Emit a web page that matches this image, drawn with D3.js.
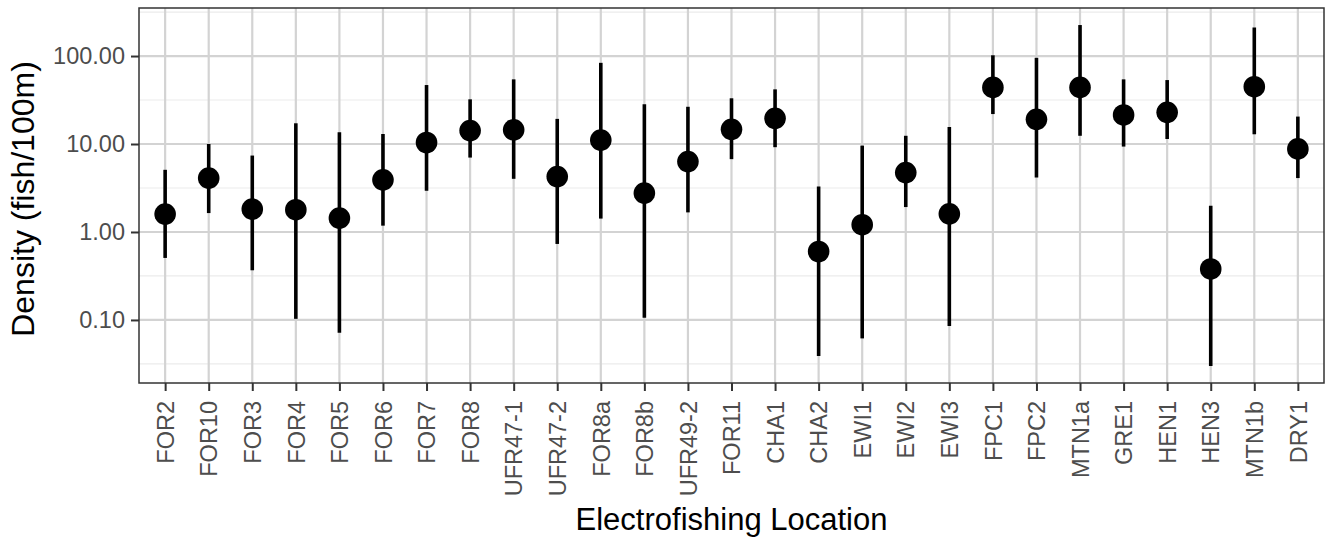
<!DOCTYPE html>
<html>
<head>
<meta charset="utf-8">
<script src="https://cdn.jsdelivr.net/npm/d3@7"></script>
<style>
  html, body { margin: 0; padding: 0; background: #ffffff; }
  svg { display: block; font-family: "Liberation Sans", Arial, Helvetica, sans-serif; }
</style>
</head>
<body>
<svg id="chart" width="1325" height="538"></svg>
<script>
// Electrofishing sites, in plotting order
const locations = ["FOR2", "FOR10", "FOR3", "FOR4", "FOR5", "FOR6", "FOR7", "FOR8",
  "UFR47-1", "UFR47-2", "FOR8a", "FOR8b", "UFR49-2", "FOR11", "CHA1", "CHA2",
  "EWI1", "EWI2", "EWI3", "FPC1", "FPC2", "MTN1a", "GRE1", "HEN1", "HEN3", "MTN1b", "DRY1"];

// Estimated density (fish/100m) with lower and upper interval bounds
const density = [1.60, 4.10, 1.82, 1.79, 1.44, 3.92, 10.4, 14.2,
  14.5, 4.27, 11.1, 2.77, 6.32, 14.7, 19.6, 0.60,
  1.21, 4.74, 1.61, 44.0, 19.1, 44.0, 21.4, 22.9, 0.38, 44.8, 8.80];
const lower = [0.507, 1.64, 0.367, 0.103, 0.0716, 1.18, 2.94, 7.01,
  4.02, 0.731, 1.42, 0.106, 1.67, 6.73, 9.20, 0.0389,
  0.0617, 1.92, 0.0851, 21.9, 4.16, 12.4, 9.35, 11.4, 0.030, 12.9, 4.10];
const upper = [5.09, 10.0, 7.39, 17.2, 13.6, 13.0, 46.8, 32.2,
  54.3, 19.3, 83.7, 28.3, 26.5, 33.1, 41.8, 3.29,
  9.59, 12.4, 15.6, 102, 95.4, 225, 54.3, 53.3, 1.99, 211, 20.5];

// Y axis breaks and their labels
const yBreaks = [0.1, 1, 10, 100];
const yBreakLabels = ["0.10", "1.00", "10.00", "100.00"];

const rows = locations.map((loc, i) => ({ loc, mid: density[i], lo: lower[i], hi: upper[i] }));

const svg = d3.select("#chart");
const panel = { left: 139, right: 1324, top: 8, bottom: 383 };
const fontStack = "'Liberation Sans', Arial, Helvetica, sans-serif";

// Discrete x positions with half-step padding on each end
const x = d3.scalePoint()
  .domain(locations)
  .range([panel.left, panel.right])
  .padding(0.6);

// Log y scale, limits expanded by 5% of the log range on both sides
const logMin = Math.log10(d3.min(lower));
const logMax = Math.log10(d3.max(upper));
const pad = (logMax - logMin) * 0.05;
const y = d3.scaleLog()
  .domain([Math.pow(10, logMin - pad), Math.pow(10, logMax + pad)])
  .range([panel.bottom, panel.top]);

// Minor grid at half-decades inside the panel
const [dLo, dHi] = y.domain().map(Math.log10);
const minorBreaks = [];
for (let e = Math.floor(dLo) - 0.5; e <= Math.ceil(dHi); e += 1) {
  if (e > dLo && e < dHi) minorBreaks.push(Math.pow(10, e));
}

const grid = svg.append("g");
grid.selectAll("line.minor")
  .data(minorBreaks)
  .join("line")
  .attr("class", "minor")
  .attr("x1", panel.left).attr("x2", panel.right)
  .attr("y1", d => y(d)).attr("y2", d => y(d))
  .attr("stroke", "#ebebeb").attr("stroke-width", 1.2);

grid.selectAll("line.hmajor")
  .data(yBreaks)
  .join("line")
  .attr("class", "hmajor")
  .attr("x1", panel.left).attr("x2", panel.right)
  .attr("y1", d => y(d)).attr("y2", d => y(d))
  .attr("stroke", "#d3d3d3").attr("stroke-width", 2.2);

grid.selectAll("line.vmajor")
  .data(locations)
  .join("line")
  .attr("class", "vmajor")
  .attr("x1", d => x(d)).attr("x2", d => x(d))
  .attr("y1", panel.top).attr("y2", panel.bottom)
  .attr("stroke", "#d3d3d3").attr("stroke-width", 2.2);

// Interval lines and point estimates
const marks = svg.append("g");
marks.selectAll("line.range")
  .data(rows)
  .join("line")
  .attr("class", "range")
  .attr("x1", d => x(d.loc)).attr("x2", d => x(d.loc))
  .attr("y1", d => y(d.lo)).attr("y2", d => y(d.hi))
  .attr("stroke", "#000").attr("stroke-width", 3.6);

marks.selectAll("circle")
  .data(rows)
  .join("circle")
  .attr("cx", d => x(d.loc))
  .attr("cy", d => y(d.mid))
  .attr("r", 10.8)
  .attr("fill", "#000");

// Panel border
svg.append("rect")
  .attr("x", panel.left).attr("y", panel.top)
  .attr("width", panel.right - panel.left)
  .attr("height", panel.bottom - panel.top)
  .attr("fill", "none").attr("stroke", "#333333").attr("stroke-width", 1.5);

// Y axis
const yAxis = svg.append("g")
  .attr("transform", `translate(${panel.left},0)`)
  .call(d3.axisLeft(y)
    .tickValues(yBreaks)
    .tickFormat((d, i) => yBreakLabels[i])
    .tickSize(8)
    .tickPadding(6));
yAxis.select(".domain").remove();
yAxis.selectAll(".tick line").attr("stroke", "#333333").attr("stroke-width", 2);
yAxis.selectAll(".tick text")
  .attr("fill", "#4d4d4d")
  .attr("font-size", 23.5)
  .attr("font-family", fontStack);

// X axis with vertical labels
const xAxis = svg.append("g")
  .attr("transform", `translate(0,${panel.bottom})`)
  .call(d3.axisBottom(x).tickSize(8).tickPadding(0));
xAxis.select(".domain").remove();
xAxis.selectAll(".tick line").attr("stroke", "#333333").attr("stroke-width", 2);
xAxis.selectAll(".tick text")
  .attr("fill", "#4d4d4d")
  .attr("font-size", 23.5)
  .attr("font-family", fontStack)
  .attr("text-anchor", "end")
  .attr("transform", "rotate(-90)")
  .attr("x", -18)
  .attr("y", 0)
  .attr("dy", "0.35em");

// Axis titles
svg.append("text")
  .attr("x", (panel.left + panel.right) / 2)
  .attr("y", 530)
  .attr("text-anchor", "middle")
  .attr("font-size", 31)
  .attr("font-family", fontStack)
  .attr("fill", "#000")
  .text("Electrofishing Location");

svg.append("text")
  .attr("transform", "translate(34,199) rotate(-90)")
  .attr("text-anchor", "middle")
  .attr("font-size", 32)
  .attr("font-family", fontStack)
  .attr("fill", "#000")
  .text("Density (fish/100m)");
</script>
</body>
</html>
